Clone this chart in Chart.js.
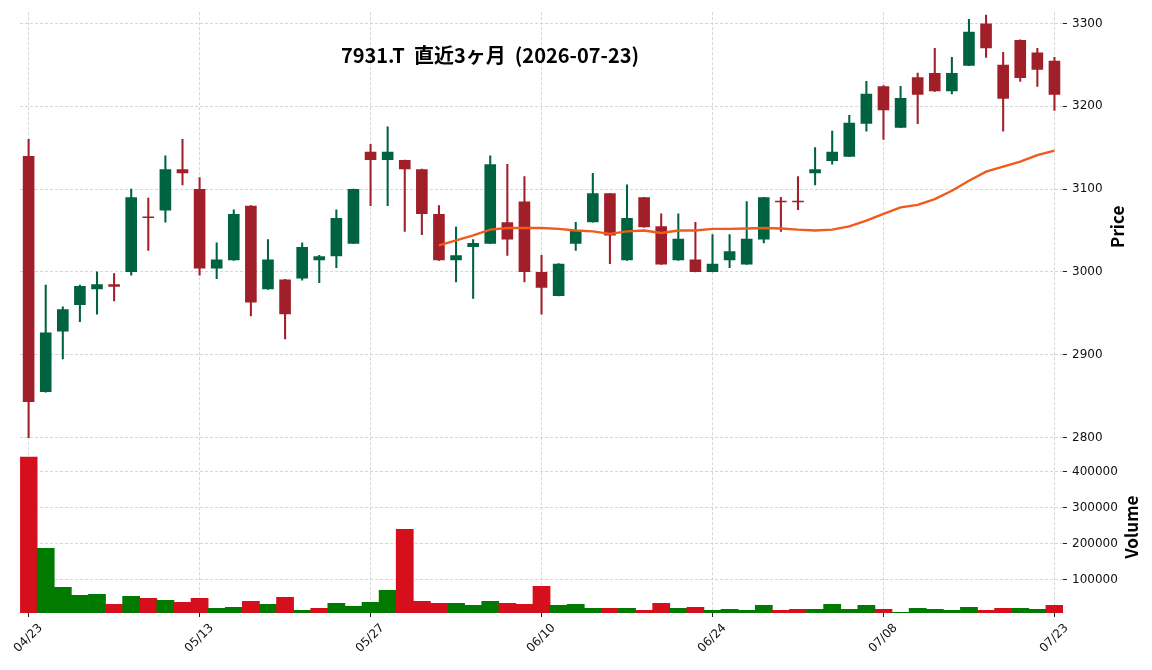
<!DOCTYPE html>
<html>
<head>
<meta charset="utf-8">
<script src="https://cdn.jsdelivr.net/npm/chart.js@4.4.1/dist/chart.umd.min.js"></script>
<style>
html,body{margin:0;padding:0;background:#ffffff;}
#wrap{width:1152px;height:670px;position:relative;}
</style>
</head>
<body>
<div id="wrap"><canvas id="c" width="1152" height="670"></canvas></div>
<script>
// ---- data ----
const titleText = '7931.T  直近3ヶ月  (2026-07-23)';
const dates = ['04/23','04/24','04/27','04/28','04/30','05/01','05/07','05/08','05/11','05/12',
  '05/13','05/14','05/15','05/18','05/19','05/20','05/21','05/22','05/25','05/26',
  '05/27','05/28','05/29','06/01','06/02','06/03','06/04','06/05','06/08','06/09',
  '06/10','06/11','06/12','06/15','06/16','06/17','06/18','06/19','06/22','06/23',
  '06/24','06/25','06/26','06/29','06/30','07/01','07/02','07/03','07/06','07/07',
  '07/08','07/09','07/10','07/13','07/14','07/15','07/16','07/17','07/21','07/22','07/23'];
const opens = [3140,2855,2928,2960,2979,2985,3000,3066,3074,3124,
  3100,3004,3014,3080,2979,2991,2992,3014,3019,3034,
  3145,3135,3135,3124,3070,3014,3030,3034,3060,3085,
  3000,2971,3034,3060,3095,3014,3090,3055,3014,3015,
  3000,3014,3009,3039,3085,3085,3119,3134,3139,3179,
  3224,3174,3235,3240,3218,3249,3300,3250,3280,3265,3255];
const highs = [3160,2984,2958,2984,3000,2998,3100,3089,3140,3160,
  3114,3035,3075,3080,3039,2991,3035,3020,3075,3100,
  3154,3175,3135,3124,3080,3054,3039,3140,3130,3115,
  3020,3010,3060,3119,3095,3105,3090,3070,3070,3060,
  3045,3045,3085,3090,3090,3115,3150,3170,3189,3230,
  3225,3224,3240,3270,3259,3305,3310,3265,3280,3270,3259];
const lows = [2800,2855,2895,2940,2949,2965,2996,3026,3060,3105,
  2996,2992,3014,2947,2979,2919,2990,2987,3005,3034,
  3080,3080,3049,3045,3014,2988,2968,3034,3020,2988,
  2949,2971,3026,3060,3010,3014,3054,3009,3014,3000,
  3000,3005,3009,3035,3049,3075,3105,3130,3139,3170,
  3160,3174,3179,3218,3215,3249,3259,3170,3230,3224,3195];
const closes = [2843,2927,2955,2983,2985,2982,3090,3065,3124,3119,
  3004,3015,3070,2963,3015,2949,3030,3019,3065,3100,
  3135,3145,3124,3070,3014,3020,3035,3130,3039,3000,
  2981,3010,3050,3095,3044,3065,3054,3009,3040,3000,
  3010,3025,3040,3090,3084,3084,3124,3145,3180,3215,
  3195,3210,3214,3218,3240,3290,3270,3209,3234,3244,3214];
const volumes = [439800,187000,78700,56500,59300,31500,53700,48100,42600,37000,
  48100,20400,23100,39800,31500,50900,14800,20400,34300,25900,
  37000,70400,239800,39800,34300,34300,28700,39800,34300,31500,
  81500,28700,31500,20400,20400,20400,14800,34300,20400,23100,
  14800,17600,14800,28700,14800,17600,17600,31500,17600,28700,
  17600,9260,20400,17600,14800,23100,14800,20400,20400,17600,28700];
const ma25 = [null,null,null,null,null,null,null,null,null,null,
  null,null,null,null,null,null,null,null,null,null,
  null,null,null,null,3032,3038,3044,3051,3053,3053,
  3053,3052,3050,3049,3046,3049,3050,3047,3050,3050,
  3052,3052,3052.5,3053,3052.5,3051,3050,3051,3055,3062,
  3070,3078,3081,3088,3098,3110,3121,3127,3133,3141,3146.5];
const priceTicks = [2800,2900,3000,3100,3200,3300];
const volumeTicks = [100000,200000,300000,400000];
const xTickLabels = ['04/23','05/13','05/27','06/10','06/24','07/08','07/23'];

// ---- styling ----
const UP = '#006340', DOWN = '#a01f29';
const VUP = '#007a00', VDOWN = '#d50f1b';
const MACOL = '#f05a1a', GRID = '#cbcbcb';
const TICKFONT = {family: 'DejaVu Sans', size: 12};
const candleColors = closes.map((c, i) => c >= opens[i] ? UP : DOWN);
const volColors = closes.map((c, i) => (i > 0 && c > closes[i - 1]) ? VUP : VDOWN);

const textPlugin = {
  id: 'texts',
  afterDraw(chart) {
    const ctx = chart.ctx;
    ctx.save();
    ctx.fillStyle = '#000';
    ctx.textAlign = 'center';
    ctx.textBaseline = 'middle';
    ctx.font = 'bold 20px "Noto Sans CJK JP"';
    ctx.fillText(titleText, 490, 55);
    const ys = chart.scales.y, vs = chart.scales.yVol;
    ctx.font = 'bold 17px "Noto Sans CJK JP"';
    ctx.save();
    ctx.translate(1118, (ys.top + ys.bottom) / 2);
    ctx.rotate(-Math.PI / 2);
    ctx.fillText('Price', 0, 0);
    ctx.restore();
    ctx.save();
    ctx.translate(1132, (vs.top + vs.bottom) / 2);
    ctx.rotate(-Math.PI / 2);
    ctx.fillText('Volume', 0, 0);
    ctx.restore();
    ctx.restore();
  }
};

new Chart(document.getElementById('c'), {
  data: {
    labels: dates,
    datasets: [
      {type: 'line', data: ma25, yAxisID: 'y', borderColor: MACOL, borderWidth: 2.4,
        pointRadius: 0, tension: 0, spanGaps: false, order: 0},
      {type: 'bar', data: opens.map((o, i) => [o, closes[i]]), yAxisID: 'y',
        backgroundColor: candleColors, grouped: false, barPercentage: 0.68,
        categoryPercentage: 1, minBarLength: 1.5, order: 1},
      {type: 'bar', data: lows.map((l, i) => [l, highs[i]]), yAxisID: 'y',
        backgroundColor: candleColors, grouped: false, barThickness: 1.4, order: 2},
      {type: 'bar', data: volumes, yAxisID: 'yVol', backgroundColor: volColors,
        grouped: false, barPercentage: 1, categoryPercentage: 1, order: 3}
    ]
  },
  options: {
    responsive: false,
    animation: false,
    devicePixelRatio: 1,
    layout: {padding: {left: 20, top: 11, right: 0, bottom: 0}},
    plugins: {legend: {display: false}, tooltip: {enabled: false}, title: {display: false}},
    scales: {
      x: {
        type: 'category', offset: true,
        grid: {display: true, color: GRID, lineWidth: 0.8, offset: false, drawTicks: true,
          tickLength: 4, tickColor: '#222', tickWidth: 1},
        border: {display: false, dash: [3, 2]},
        ticks: {autoSkip: false, maxRotation: 45, minRotation: 45, labelOffset: 12, padding: 4,
          font: TICKFONT, color: '#111',
          callback: (v, i) => xTickLabels.includes(dates[i]) ? dates[i] : null},
        afterFit: (s) => { s.height = 57; }
      },
      y: {
        type: 'linear', position: 'right', stack: 'panels', stackWeight: 430,
        min: 2795.5, max: 3313.5,
        afterBuildTicks: (s) => { s.ticks = priceTicks.map(v => ({value: v})); },
        grid: {color: GRID, lineWidth: 0.8, tickLength: 4, tickColor: '#222', tickWidth: 1},
        border: {display: false, dash: [3, 2]},
        ticks: {font: TICKFONT, color: '#111', padding: 5, callback: (v) => String(v)},
        afterFit: (s) => { s.width = 89; }
      },
      yVol: {
        type: 'linear', position: 'right', stack: 'panels', stackWeight: 172,
        min: 7200, max: 483700,
        afterBuildTicks: (s) => { s.ticks = volumeTicks.map(v => ({value: v})); },
        grid: {color: GRID, lineWidth: 0.8, tickLength: 4, tickColor: '#222', tickWidth: 1},
        border: {display: false, dash: [3, 2]},
        ticks: {font: TICKFONT, color: '#111', padding: 5, callback: (v) => String(v)},
        afterFit: (s) => { s.width = 89; }
      }
    }
  },
  plugins: [textPlugin]
});
</script>
</body>
</html>
